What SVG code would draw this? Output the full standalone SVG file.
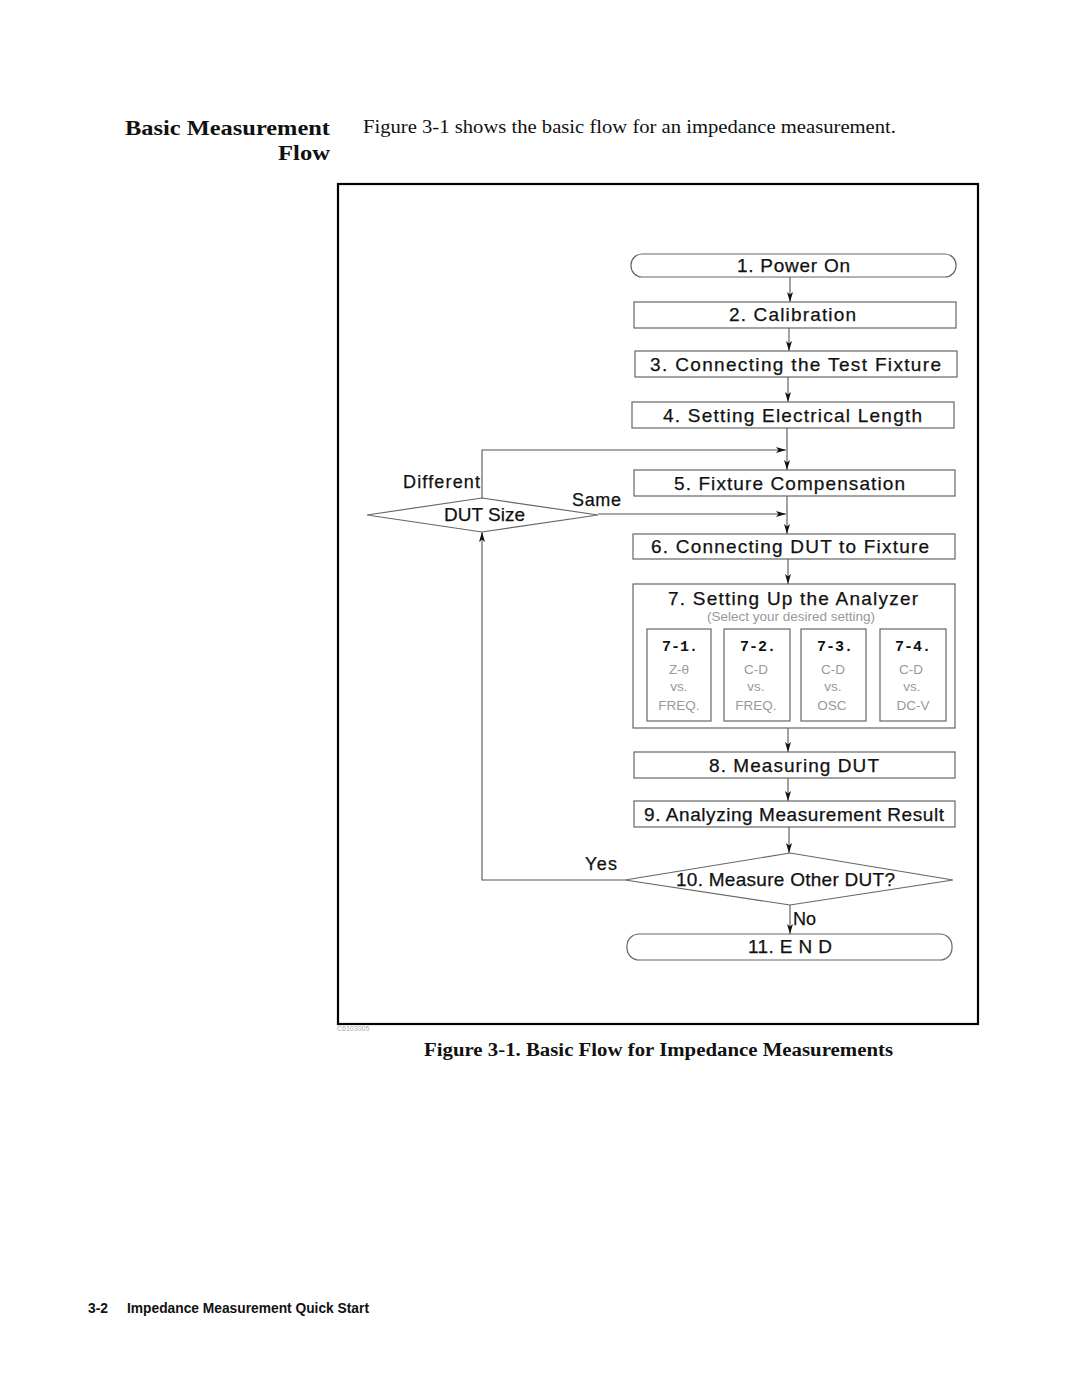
<svg xmlns="http://www.w3.org/2000/svg" width="1080" height="1397" viewBox="0 0 1080 1397">
<defs>
<marker id="ah" viewBox="0 0 10 6" refX="10" refY="3" markerWidth="10" markerHeight="6" markerUnits="userSpaceOnUse" orient="auto">
<path d="M0,0 L10,3 L0,6 L2.5,3 Z" fill="#111"/>
</marker>
</defs>
<style>
.bx{fill:#fff;stroke:#666;stroke-width:1.2}
.t{font-family:"Liberation Sans",Arial,sans-serif;font-size:19px;fill:#111;text-anchor:middle;stroke:#111;stroke-width:0.25}
.lb{font-family:"Liberation Sans",Arial,sans-serif;font-size:18px;fill:#111;stroke:#111;stroke-width:0.25}
.g{font-family:"Liberation Sans",Arial,sans-serif;font-size:13.5px;fill:#999;text-anchor:middle}
.m{font-family:"Liberation Mono","Courier New",monospace;font-size:15px;font-weight:bold;fill:#111;text-anchor:middle}
.c{fill:none;stroke:#555;stroke-width:1.1}
.ca{fill:none;stroke:#555;stroke-width:1.1;marker-end:url(#ah)}
.serif{font-family:"Liberation Serif","Times New Roman",serif;fill:#111}
</style>
<rect width="1080" height="1397" fill="#fff"/>

<g id="header">
<text class="serif" x="330" y="135" font-size="22" font-weight="bold" text-anchor="end" textLength="205" lengthAdjust="spacingAndGlyphs">Basic Measurement</text>
<text class="serif" x="330" y="160" font-size="22" font-weight="bold" text-anchor="end" textLength="52" lengthAdjust="spacingAndGlyphs">Flow</text>
<text class="serif" x="363" y="133" font-size="19" textLength="533" lengthAdjust="spacingAndGlyphs">Figure 3-1 shows the basic flow for an impedance measurement.</text>
</g>

<rect id="frame" x="338" y="184" width="640" height="840" fill="none" stroke="#000" stroke-width="2.2"/>

<g id="connectors">
<line class="ca" x1="790" y1="277" x2="790" y2="302"/>
<line class="ca" x1="789" y1="328" x2="789" y2="351"/>
<line class="ca" x1="788" y1="377" x2="788" y2="402"/>
<line class="ca" x1="787" y1="428" x2="787" y2="470"/>
<polyline class="ca" points="482,498 482,450 786,450"/>
<line class="ca" x1="787" y1="496" x2="787" y2="534"/>
<line class="ca" x1="598" y1="514" x2="786" y2="514"/>
<line class="ca" x1="788" y1="559" x2="788" y2="584"/>
<line class="ca" x1="788" y1="728" x2="788" y2="752"/>
<line class="ca" x1="788" y1="778" x2="788" y2="801"/>
<line class="ca" x1="789" y1="827" x2="789" y2="853"/>
<polyline class="ca" points="625,880 482,880 482,532"/>
<line class="ca" x1="790" y1="905" x2="790" y2="934"/>
<text class="lb" x="403" y="488" textLength="77">Different</text>
<text class="lb" x="572" y="506" textLength="49">Same</text>
<text class="lb" x="585" y="870" textLength="32">Yes</text>
<text class="lb" x="793" y="925" textLength="23">No</text>
</g>

<g id="n1"><rect class="bx" x="631" y="254" width="325" height="23" rx="11"/><text class="t" x="793.5" y="272" textLength="113">1. Power On</text></g>
<g id="n2"><rect class="bx" x="634" y="302" width="322" height="26"/><text class="t" x="792.5" y="321" textLength="127">2. Calibration</text></g>
<g id="n3"><rect class="bx" x="635" y="351" width="322" height="26"/><text class="t" x="795.5" y="371" textLength="291">3. Connecting the Test Fixture</text></g>
<g id="n4"><rect class="bx" x="632" y="402" width="322" height="26"/><text class="t" x="792.5" y="422" textLength="259">4. Setting Electrical Length</text></g>
<g id="n5"><rect class="bx" x="634" y="470" width="321" height="26"/><text class="t" x="789.5" y="490" textLength="231">5. Fixture Compensation</text></g>
<g id="dut"><polygon class="bx" points="367,515 482,498 598,515 482,532"/><text class="t" x="484.5" y="521" textLength="81">DUT Size</text></g>
<g id="n6"><rect class="bx" x="633" y="534" width="322" height="25"/><text class="t" x="790" y="553" textLength="278">6. Connecting DUT to Fixture</text></g>
<g id="n7">
<rect class="bx" x="633" y="584" width="322" height="144"/>
<text class="t" x="793" y="605" textLength="250">7. Setting Up the Analyzer</text>
<text class="g" x="791" y="621" textLength="168">(Select your desired setting)</text>
<rect class="bx" x="647" y="629" width="64" height="92"/>
<rect class="bx" x="724" y="629" width="66" height="92"/>
<rect class="bx" x="801" y="629" width="65" height="92"/>
<rect class="bx" x="880" y="629" width="66" height="92"/>
<text class="m" x="680" y="651">7-1.</text>
<text class="m" x="758" y="651">7-2.</text>
<text class="m" x="835" y="651">7-3.</text>
<text class="m" x="913" y="651">7-4.</text>
<text class="g" x="679" y="674">Z-θ</text>
<text class="g" x="756" y="674">C-D</text>
<text class="g" x="833" y="674">C-D</text>
<text class="g" x="911" y="674">C-D</text>
<text class="g" x="679" y="691">vs.</text>
<text class="g" x="756" y="691">vs.</text>
<text class="g" x="833" y="691">vs.</text>
<text class="g" x="912" y="691">vs.</text>
<text class="g" x="679" y="710">FREQ.</text>
<text class="g" x="756" y="710">FREQ.</text>
<text class="g" x="832" y="710">OSC</text>
<text class="g" x="913" y="710">DC-V</text>
</g>
<g id="n8"><rect class="bx" x="634" y="752" width="321" height="26"/><text class="t" x="794" y="772" textLength="170">8. Measuring DUT</text></g>
<g id="n9"><rect class="bx" x="634" y="801" width="321" height="26"/><text class="t" x="794" y="821" textLength="300">9. Analyzing Measurement Result</text></g>
<g id="n10"><polygon class="bx" points="625,880 790,853 953,880 790,905"/><text class="t" x="785.5" y="886" textLength="219">10. Measure Other DUT?</text></g>
<g id="n11"><rect class="bx" x="627" y="934" width="325" height="26" rx="12"/><text class="t" x="790" y="953" textLength="84">11. E N D</text></g>

<text x="337" y="1031" font-family="Liberation Sans,Arial,sans-serif" font-size="7" fill="#aaa">C6103005</text>

<text class="serif" x="424" y="1056" font-size="18" font-weight="bold" textLength="469" lengthAdjust="spacingAndGlyphs">Figure 3-1. Basic Flow for Impedance Measurements</text>

<g id="footer">
<text x="88" y="1313" font-family="Liberation Sans,Arial,sans-serif" font-size="15" font-weight="bold" fill="#111" textLength="20" lengthAdjust="spacingAndGlyphs">3-2</text>
<text x="127" y="1313" font-family="Liberation Sans,Arial,sans-serif" font-size="15" font-weight="bold" fill="#111" textLength="242" lengthAdjust="spacingAndGlyphs">Impedance Measurement Quick Start</text>
</g>
</svg>
